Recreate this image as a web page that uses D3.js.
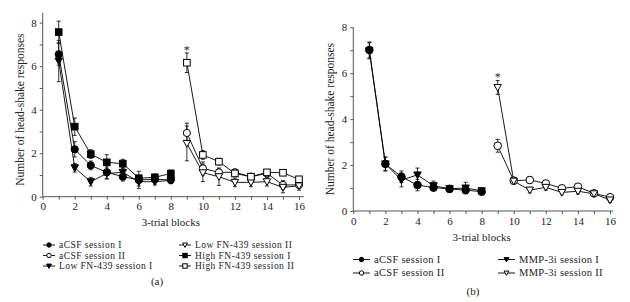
<!DOCTYPE html>
<html>
<head>
<meta charset="utf-8">
<script src="https://cdn.jsdelivr.net/npm/d3@7"></script>
<style>
  body { margin: 0; background: #fff; }
  text { font-family: "Liberation Serif", "DejaVu Serif", serif; fill: #222; }
</style>
</head>
<body>
<div id="canvas"></div>
<script>
const blocksI = [1, 2, 3, 4, 5, 6, 7, 8];
const blocksII = [9, 10, 11, 12, 13, 14, 15, 16];
const xTicks = [0, 2, 4, 6, 8, 10, 12, 14, 16];
const yTicks = [0, 2, 4, 6, 8];

// panel (a)
const aCsfI_a = [6.55, 2.18, 1.44, 1.12, 0.92, 0.77, 0.8, 0.77];
const aCsfI_aErr = [0.5, 0.35, 0.2, 0.3, 0.2, 0.4, 0.15, 0.15];
const aCsfII_a = [2.93, 1.3, 1.12, 1.12, 0.92, 1.07, 0.54, 0.54];
const aCsfII_aErr = [0.45, 0.3, 0.15, 0.15, 0.15, 0.15, 0.2, 0.15];
const lowI = [6.24, 1.33, 0.69, 1.07, 1.12, 0.69, 0.69, 0.75];
const lowIErr = [0.95, 0.2, 0.2, 0.25, 0.2, 0.2, 0.15, 0.15];
const lowII = [2.45, 1.1, 0.92, 0.66, 0.66, 0.69, 0.43, 0.5];
const lowIIErr = [0.8, 0.4, 0.4, 0.2, 0.2, 0.2, 0.25, 0.2];
const highI = [7.57, 3.22, 1.96, 1.58, 1.52, 0.85, 0.89, 1.07];
const highIErr = [0.5, 0.4, 0.2, 0.35, 0.2, 0.1, 0.15, 0.15];
const highII = [6.16, 1.92, 1.61, 1.07, 0.92, 1.12, 1.1, 0.8];
const highIIErr = [0.45, 0.2, 0.15, 0.12, 0.12, 0.12, 0.12, 0.12];

// panel (b)
const aCsfI_b = [7.01, 2.05, 1.49, 1.13, 1.02, 0.96, 0.91, 0.84];
const aCsfI_bErr = [0.35, 0.3, 0.25, 0.25, 0.15, 0.15, 0.15, 0.1];
const aCsfII_b = [2.84, 1.32, 1.35, 1.2, 0.99, 1.06, 0.77, 0.6];
const aCsfII_bErr = [0.28, 0.15, 0.15, 0.12, 0.12, 0.12, 0.1, 0.1];
const mmpI = [6.98, 2.05, 1.35, 1.57, 1.1, 0.97, 1.0, 0.88];
const mmpIErr = [0.35, 0.3, 0.3, 0.3, 0.2, 0.15, 0.25, 0.1];
const mmpII = [5.38, 1.3, 0.91, 1.03, 0.81, 0.86, 0.75, 0.48];
const mmpIIErr = [0.3, 0.12, 0.12, 0.12, 0.1, 0.12, 0.1, 0.1];

const svg = d3.select('#canvas').append('svg')
  .attr('width', 630).attr('height', 302);

function marker(g, shape, x, y, size) {
  const fill = shape.filled ? '#000' : '#fff';
  if (shape.type === 'circle') {
    g.append('circle').attr('cx', x).attr('cy', y).attr('r', size)
      .attr('fill', fill).attr('stroke', '#000').attr('stroke-width', 1);
  } else if (shape.type === 'square') {
    g.append('rect').attr('x', x - size).attr('y', y - size)
      .attr('width', size * 2).attr('height', size * 2)
      .attr('fill', fill).attr('stroke', '#000').attr('stroke-width', 1);
  } else {
    const s = size * 1.1;
    g.append('path')
      .attr('d', `M${x - s},${y - s * 0.8}L${x + s},${y - s * 0.8}L${x},${y + s}Z`)
      .attr('fill', fill).attr('stroke', '#000').attr('stroke-width', 1);
  }
}

function drawPanel(p) {
  const xScale = d3.scaleLinear().domain([0, 16]).range(p.xr);
  const yScale = d3.scaleLinear().domain([0, 8]).range(p.yr);
  const g = svg.append('g');

  // axes
  const xAxis = d3.axisBottom(xScale).tickValues(xTicks).tickSize(3).tickFormat(d3.format('d'));
  const yAxis = d3.axisLeft(yScale).tickValues(yTicks).tickSize(3).tickFormat(d3.format('d'));
  const xg = g.append('g').attr('transform', `translate(0,${p.yr[0]})`).call(xAxis);
  const yg = g.append('g').attr('transform', `translate(${p.xr[0]},0)`).call(yAxis);
  // minor ticks
  const xm = g.append('g').attr('transform', `translate(0,${p.yr[0]})`)
    .call(d3.axisBottom(xScale).tickValues(d3.range(1, 17, 2)).tickSize(3).tickFormat(''));
  const ym = g.append('g').attr('transform', `translate(${p.xr[0]},0)`)
    .call(d3.axisLeft(yScale).tickValues(d3.range(1, 9, 2)).tickSize(3).tickFormat(''));
  [xg, yg, xm, ym].forEach(a => {
    a.select('.domain').remove();
    a.selectAll('line').attr('stroke', '#555');
  });
  g.append('line').attr('x1', p.xr[0]).attr('x2', xScale(p.xMax))
    .attr('y1', p.yr[0]).attr('y2', p.yr[0]).attr('stroke', '#555');
  g.append('line').attr('x1', p.xr[0]).attr('x2', p.xr[0])
    .attr('y1', p.yr[0]).attr('y2', yScale(p.yMax)).attr('stroke', '#555');
  [xg, yg].forEach(a => a.selectAll('text').attr('font-size', 11)
    .attr('font-family', '"Liberation Serif", serif').attr('fill', '#333'));

  g.append('text').attr('x', (p.xr[0] + p.xr[1]) / 2).attr('y', p.xTitleY)
    .attr('text-anchor', 'middle').attr('font-size', 11).text('3-trial blocks');
  g.append('text')
    .attr('transform', `translate(${p.yTitleX},${(p.yr[0] + p.yr[1]) / 2}) rotate(-90)`)
    .attr('text-anchor', 'middle').attr('font-size', 11.5).text('Number of head-shake responses');

  const line = d3.line().x(d => xScale(d.x)).y(d => yScale(d.y));

  p.series.forEach(s => {
    const pts = s.blocks.map((b, i) => ({ x: b, y: s.values[i], e: s.err[i] }));
    g.append('path').attr('d', line(pts)).attr('fill', 'none')
      .attr('stroke', '#000').attr('stroke-width', 0.9);
    pts.forEach(d => {
      const cx = xScale(d.x);
      g.append('line').attr('x1', cx).attr('x2', cx)
        .attr('y1', yScale(d.y - d.e)).attr('y2', yScale(d.y + d.e))
        .attr('stroke', '#000').attr('stroke-width', 0.8);
      [d.y - d.e, d.y + d.e].forEach(v => {
        g.append('line').attr('x1', cx - 2).attr('x2', cx + 2)
          .attr('y1', yScale(v)).attr('y2', yScale(v))
          .attr('stroke', '#000').attr('stroke-width', 0.8);
      });
    });
  });
  p.series.forEach(s => {
    s.blocks.forEach((b, i) => marker(g, s.shape, xScale(b), yScale(s.values[i]), s.shape.size));
  });

  // significance star
  g.append('text').attr('x', xScale(9)).attr('y', yScale(p.star) + 1)
    .attr('text-anchor', 'middle').attr('font-size', 12).text('*');

  // legend
  p.series.forEach((s, i) => {
    const col = p.legendCols[i];
    const ly = p.legendRows[p.legendRowIdx[i]];
    g.append('line').attr('x1', col).attr('x2', col + p.legLen)
      .attr('y1', ly).attr('y2', ly).attr('stroke', '#000').attr('stroke-width', 0.9);
    marker(g, s.shape, col + p.legLen / 2, ly, 2.2);
    g.append('text').attr('x', col + p.legLen + 4).attr('y', ly + 3.4)
      .attr('font-size', p.legFont).attr('letter-spacing', p.legSpacing).text(s.name);
  });

  g.append('text').attr('x', p.tagX).attr('y', p.tagY)
    .attr('text-anchor', 'middle').attr('font-size', 11).text(p.tag);
}

drawPanel({
  xr: [42.7, 299], yr: [196.7, 22.7], xMax: 16.3, yMax: 8.45,
  xTitleY: 226, yTitleX: 24, star: 6.6, tag: '(a)', tagX: 157, tagY: 285,
  legLen: 12, legFont: 9.5, legSpacing: 0.45, legendRows: [245, 255.5, 266],
  legendCols: [43, 43, 43, 179, 179, 179], legendRowIdx: [0, 1, 2, 0, 1, 2],
  series: [
    { name: 'aCSF session I', blocks: blocksI, values: aCsfI_a, err: aCsfI_aErr, shape: { type: 'circle', filled: true, size: 3.6 } },
    { name: 'aCSF session II', blocks: blocksII, values: aCsfII_a, err: aCsfII_aErr, shape: { type: 'circle', filled: false, size: 3.6 } },
    { name: 'Low FN-439 session I', blocks: blocksI, values: lowI, err: lowIErr, shape: { type: 'tri', filled: true, size: 3.4 } },
    { name: 'Low FN-439 session II', blocks: blocksII, values: lowII, err: lowIIErr, shape: { type: 'tri', filled: false, size: 3.4 } },
    { name: 'High FN-439 session I', blocks: blocksI, values: highI, err: highIErr, shape: { type: 'square', filled: true, size: 3.3 } },
    { name: 'High FN-439 session II', blocks: blocksII, values: highII, err: highIIErr, shape: { type: 'square', filled: false, size: 3.3 } }
  ]
});

drawPanel({
  xr: [353.3, 610], yr: [211, 27.3], xMax: 16.2, yMax: 8,
  xTitleY: 241, yTitleX: 334, star: 5.72, tag: '(b)', tagX: 473, tagY: 295,
  legLen: 17, legFont: 10.5, legSpacing: 0.3, legendRows: [259.5, 273],
  legendCols: [353, 353, 498, 498], legendRowIdx: [0, 1, 0, 1],
  series: [
    { name: 'aCSF session I', blocks: blocksI, values: aCsfI_b, err: aCsfI_bErr, shape: { type: 'circle', filled: true, size: 3.8 } },
    { name: 'aCSF session II', blocks: blocksII, values: aCsfII_b, err: aCsfII_bErr, shape: { type: 'circle', filled: false, size: 3.8 } },
    { name: 'MMP-3i session I', blocks: blocksI, values: mmpI, err: mmpIErr, shape: { type: 'tri', filled: true, size: 3.4 } },
    { name: 'MMP-3i session II', blocks: blocksII, values: mmpII, err: mmpIIErr, shape: { type: 'tri', filled: false, size: 3.4 } }
  ]
});
</script>
</body>
</html>
